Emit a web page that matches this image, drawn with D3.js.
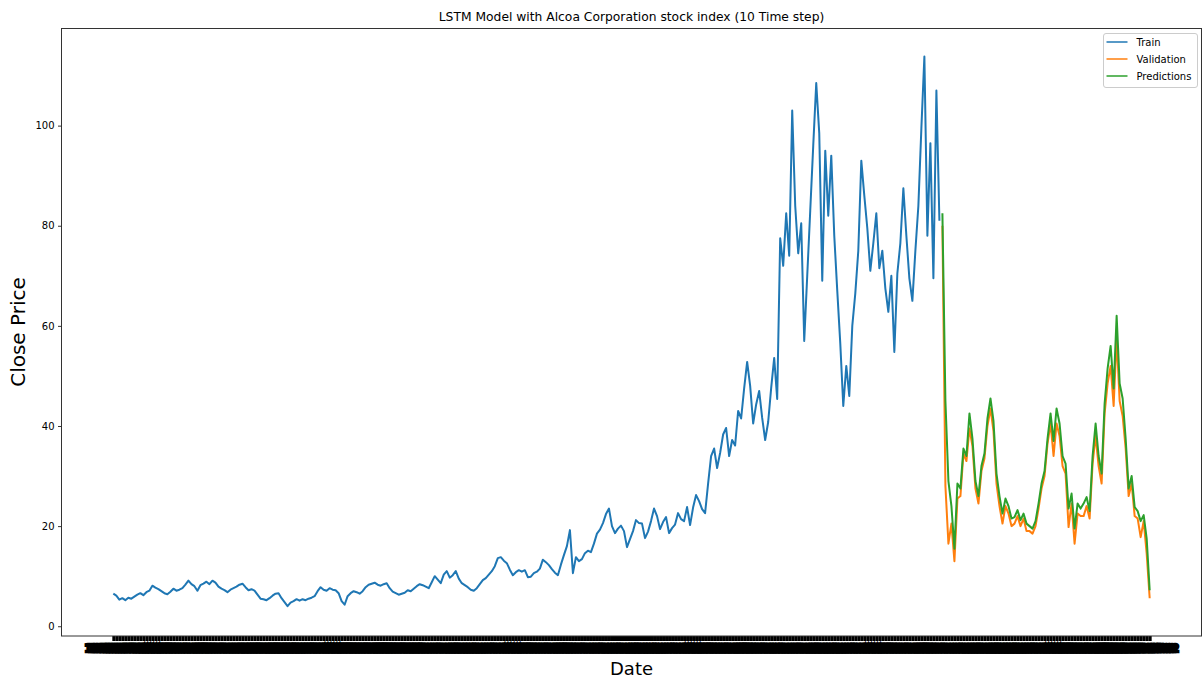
<!DOCTYPE html>
<html><head><meta charset="utf-8">
<script src="https://cdn.jsdelivr.net/npm/d3@7"></script>
<style>body{margin:0;background:#fff} svg{display:block} text{font-family:"DejaVu Sans",sans-serif}</style>
</head><body><svg id="c" width="1203" height="682"></svg>
<script>
const trainValues = [
 6.5, 6.1, 5.3, 5.6, 5.2, 5.7, 5.5, 5.9, 6.3, 6.6,
 6.2, 6.8, 7.1, 8.1, 7.7, 7.4, 7.0, 6.6, 6.4, 6.9,
 7.5, 7.1, 7.3, 7.6, 8.3, 9.1, 8.4, 8.0, 7.1, 8.2,
 8.5, 8.9, 8.4, 9.1, 8.7, 7.9, 7.5, 7.2, 6.8, 7.3,
 7.6, 7.9, 8.3, 8.5, 7.8, 7.2, 7.4, 7.1, 6.3, 5.5,
 5.4, 5.2, 5.6, 6.1, 6.5, 6.6, 5.6, 4.8, 4.0, 4.7,
 5.0, 5.4, 5.1, 5.4, 5.2, 5.5, 5.7, 6.0, 7.0, 7.8,
 7.3, 7.1, 7.6, 7.3, 7.2, 6.6, 5.0, 4.3, 6.0, 6.6,
 7.0, 6.8, 6.5, 7.0, 7.8, 8.3, 8.5, 8.7, 8.3, 8.1,
 8.4, 8.6, 7.6, 6.9, 6.6, 6.3, 6.5, 6.7, 7.2, 7.0,
 7.5, 8.0, 8.4, 8.2, 7.9, 7.6, 8.8, 10.0, 9.3, 8.6,
 10.3, 11.0, 9.7, 10.2, 11.0, 9.5, 8.6, 8.2, 7.8, 7.3,
 7.1, 7.6, 8.4, 9.2, 9.6, 10.3, 11.0, 12.0, 13.6, 13.8,
 13.1, 12.6, 11.3, 10.2, 10.8, 11.2, 10.9, 11.2, 9.8, 9.9,
 10.6, 10.9, 11.5, 13.3, 12.8, 12.2, 11.4, 10.7, 10.2, 12.3,
 14.2, 16.0, 19.2, 10.6, 13.8, 13.0, 13.4, 14.6, 15.1, 14.8,
 16.5, 18.5, 19.3, 20.6, 22.4, 23.5, 20.0, 18.6, 19.5, 20.1,
 19.0, 15.8, 17.4, 19.0, 21.2, 20.6, 20.5, 17.6, 18.9, 21.0,
 23.5, 22.0, 19.4, 20.8, 21.8, 18.6, 19.6, 20.3, 22.6, 21.4,
 21.0, 23.8, 20.2, 23.7, 26.2, 25.0, 23.4, 22.6, 28.5, 34.0,
 35.5, 31.6, 34.6, 38.3, 39.6, 34.0, 37.2, 36.1, 43.0, 41.5,
 47.5, 52.8, 48.0, 40.5, 44.3, 47.0, 41.6, 37.2, 40.8, 47.6,
 53.6, 45.4, 77.5, 72.0, 82.5, 74.0, 103.0, 84.0, 74.5, 80.5,
 57.0, 70.0, 83.0, 96.0, 108.5, 98.5, 69.0, 95.0, 82.0, 94.0,
 78.0, 67.0, 56.5, 44.0, 52.0, 46.0, 60.0, 66.5, 75.0, 93.0,
 86.0, 79.5, 71.0, 76.5, 82.5, 71.5, 75.0, 67.5, 62.8, 70.0,
 54.8, 70.5, 76.5, 87.5, 78.0, 69.5, 65.0, 75.0, 84.0, 99.5,
 113.8, 78.0, 96.5, 69.5, 107.0, 81.0
];
const validValues = [
 80.0, 28.0, 16.5, 20.5, 13.0, 25.5, 26.0, 34.5, 33.0, 39.5,
 36.0, 27.5, 24.5, 31.0, 33.5, 40.0, 43.5, 39.0, 28.5, 24.0,
 20.5, 24.0, 22.5, 20.0, 20.5, 22.0, 20.0, 21.5, 19.0, 19.0,
 18.5, 20.0, 23.5, 27.5, 30.0, 36.5, 40.5, 34.0, 40.5, 38.0,
 32.0, 30.5, 19.8, 24.5, 16.5, 22.5, 22.0, 22.0, 24.0, 21.5,
 32.5, 38.0, 32.0, 28.5, 42.5, 48.5, 52.0, 44.0, 57.5, 45.0,
 42.0, 35.5, 26.0, 28.5, 22.0, 21.5, 17.8, 21.0, 14.5, 5.6
];
const predValues = [
 82.5, 45.0, 29.0, 24.0, 15.5, 28.5, 27.5, 35.5, 34.0, 42.5,
 37.5, 29.0, 26.0, 32.0, 34.5, 41.5, 45.5, 41.0, 30.5, 26.0,
 22.5, 25.5, 24.0, 21.5, 21.8, 23.2, 21.2, 22.5, 20.5, 20.0,
 19.5, 21.0, 24.5, 28.5, 31.0, 37.5, 42.5, 37.0, 43.5, 40.5,
 34.0, 32.5, 23.5, 26.5, 19.5, 24.5, 23.5, 24.5, 25.8, 23.0,
 34.0, 40.5, 34.0, 30.5, 44.5, 51.5, 56.0, 47.5, 62.0, 48.5,
 45.5, 37.5, 27.5, 30.0, 23.8, 23.0, 21.0, 22.2, 17.5, 7.2
];
const yTickValues = [0, 20, 40, 60, 80, 100];
const seriesNames = ["Train", "Validation", "Predictions"];
const seriesColors = ["#1f77b4", "#ff7f0e", "#2ca02c"];
const firstDate = "1962-01-02";
const monthsPerPoint = 2;

const N = trainValues.length + validValues.length;
const parse = d3.timeParse("%Y-%m-%d"), fmt = d3.timeFormat("%Y-%m-%d");
const dates = d3.range(N).map(i => fmt(d3.timeMonth.offset(parse(firstDate), i * monthsPerPoint)));

const svg = d3.select("#c");
const plot = {l: 61.5, r: 1201.5, t: 28.5, b: 636};
const x = d3.scaleLinear().domain([-(N - 1) * 0.05, (N - 1) * 1.05]).range([plot.l, plot.r]);
const y = d3.scaleLinear().domain([-1.95, 119.4]).range([plot.b, plot.t]);

// x axis (dense category ticks that merge into a black band, as in the reference)
const gx = svg.append("g").attr("transform", `translate(0,${plot.b})`)
  .call(d3.axisBottom(x).tickValues(d3.range(N)).tickFormat(i => dates[i]).tickSize(5).tickPadding(2));
gx.select(".domain").remove();
gx.selectAll(".tick line").attr("stroke", "#000").attr("stroke-width", 3);
gx.selectAll(".tick text").attr("font-size", 10).attr("fill", "#000").attr("stroke", "#000")
  .attr("stroke-width", 2.6).attr("stroke-linejoin", "miter").attr("dy", null).attr("y", 15.7)
  .style("font-family", "DejaVu Sans");

// y axis
const gy = svg.append("g").attr("transform", `translate(${plot.l},0)`)
  .call(d3.axisLeft(y).tickValues(yTickValues).tickSize(3.5).tickPadding(3.5));
gy.select(".domain").remove();
gy.selectAll(".tick line").attr("stroke", "#000").attr("stroke-width", 0.8);
gy.selectAll(".tick text").attr("font-size", 10).attr("fill", "#000").style("font-family", "DejaVu Sans");

// lines
const line = offset => d3.line().x((d, i) => x(offset + i)).y(d => y(d));
const nT = trainValues.length;
svg.append("path").datum(trainValues).attr("d", line(0)).attr("fill", "none")
  .attr("stroke", seriesColors[0]).attr("stroke-width", 2).attr("stroke-linejoin", "round");
svg.append("path").datum(validValues).attr("d", line(nT)).attr("fill", "none")
  .attr("stroke", seriesColors[1]).attr("stroke-width", 2).attr("stroke-linejoin", "round");
svg.append("path").datum(predValues).attr("d", line(nT)).attr("fill", "none")
  .attr("stroke", seriesColors[2]).attr("stroke-width", 2).attr("stroke-linejoin", "round");

// frame
svg.append("rect").attr("x", plot.l).attr("y", plot.t).attr("width", plot.r - plot.l).attr("height", plot.b - plot.t)
  .attr("fill", "none").attr("stroke", "#333").attr("stroke-width", 1);

// title & labels
svg.append("text").attr("x", (plot.l + plot.r) / 2).attr("y", 21).attr("text-anchor", "middle")
  .attr("font-size", 12.3).attr("fill", "#000").text("LSTM Model with Alcoa Corporation stock index (10 Time step)");
svg.append("text").attr("x", (plot.l + plot.r) / 2).attr("y", 675).attr("text-anchor", "middle")
  .attr("font-size", 18).attr("fill", "#000").text("Date");
svg.append("text").attr("transform", `translate(25,332) rotate(-90)`).attr("text-anchor", "middle")
  .attr("font-size", 20).attr("fill", "#000").text("Close Price");

// legend
const lg = svg.append("g").attr("transform", "translate(1103.5,33.5)");
lg.append("rect").attr("width", 94).attr("height", 54).attr("rx", 2.5).attr("fill", "#fff")
  .attr("fill-opacity", 0.8).attr("stroke", "#cccccc").attr("stroke-width", 1);
seriesNames.forEach((name, k) => {
  const yy = 8.5 + k * 17;
  lg.append("line").attr("x1", 3).attr("x2", 24).attr("y1", yy).attr("y2", yy)
    .attr("stroke", seriesColors[k]).attr("stroke-width", 1.5);
  lg.append("text").attr("x", 33).attr("y", yy + 3.6).attr("font-size", 10).attr("fill", "#000").text(name);
});
</script></body></html>
